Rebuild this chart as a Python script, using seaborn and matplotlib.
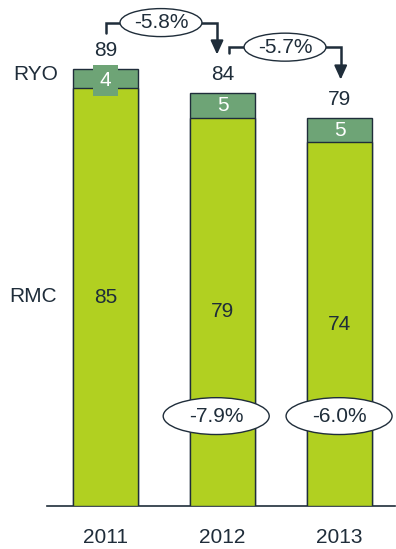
import matplotlib
matplotlib.use("Agg")
import matplotlib.pyplot as plt
from matplotlib.patches import Ellipse
import seaborn as sns
import pandas as pd

years = ["2011", "2012", "2013"]
rmc = [85, 79, 74]
ryo = [4, 5, 5]
totals = [89, 84, 79]
yoy_total = ["-5.8%", "-5.7%"]
yoy_rmc = ["-7.9%", "-6.0%"]

RMC_C = "#B1D021"
RYO_C = "#6EA476"
EDGE = "#1F2D3A"
TXT = "#1F2D3A"

sns.set_theme(style="white")
plt.rcParams["font.family"] = ["Liberation Sans", "DejaVu Sans"]

df = pd.DataFrame({"year": years, "RMC": rmc, "RYO": ryo, "total": totals})

fig = plt.figure(figsize=(3.96, 5.49), dpi=100)
ax = fig.add_axes([47 / 396, 43 / 549, (395 - 47) / 396, 506 / 549])

W = 0.556
sns.barplot(data=df, x="year", y="total", color=RYO_C, saturation=1, width=W,
            edgecolor=EDGE, linewidth=1.0, ax=ax, zorder=2)
sns.barplot(data=df, x="year", y="RMC", color=RMC_C, saturation=1, width=W,
            edgecolor=EDGE, linewidth=1.0, ax=ax, zorder=3)

ax.set_xlim(-0.5, 2.474)
ax.set_ylim(0, 103)
ax.set_xlabel("")
ax.set_ylabel("")
ax.set_yticks([])
for s in ["top", "right", "left"]:
    ax.spines[s].set_visible(False)
ax.spines["bottom"].set_color(EDGE)
ax.spines["bottom"].set_linewidth(1.2)
fs = 15
ax.tick_params(axis="x", length=0, pad=16, labelsize=fs, labelcolor=TXT)

for i in range(3):
    ax.text(i, rmc[i] / 2, str(rmc[i]), ha="center", va="center", fontsize=fs, color=TXT, zorder=5)
    ax.text(i, totals[i] + 3.8, str(totals[i]), ha="center", va="center", fontsize=fs, color=TXT, zorder=5)
    if i == 0:
        ax.text(i, rmc[i] + 1.6, str(ryo[i]), ha="center", va="center", fontsize=fs, color="white",
                zorder=5, bbox=dict(boxstyle="square,pad=0.3", fc=RYO_C, ec="none"))
    else:
        ax.text(i, rmc[i] + ryo[i] / 2, str(ryo[i]), ha="center", va="center", fontsize=fs,
                color="white", zorder=5)

ax.text(-0.6, 87.8, "RYO", ha="center", va="center", fontsize=fs, color=TXT, clip_on=False)
ax.text(-0.62, 42.6, "RMC", ha="center", va="center", fontsize=fs, color=TXT, clip_on=False)

# top brackets with growth ellipses
brackets = [
    # x_start, y_start, y_line, ellipse_cx, x_end, y_end
    (0.0, 96.3, 98.4, 0.474, 0.953, 91.9),
    (1.056, 92.3, 93.4, 1.534, 2.01, 86.8),
]
for (xs, ys, yl, ecx, xe, ye), lab in zip(brackets, yoy_total):
    ax.plot([xs, xs, xe, xe], [ys, yl, yl, ye + 2.0], color=EDGE, lw=1.8, zorder=4, clip_on=False,
            solid_joinstyle="miter")
    ax.annotate("", xy=(xe, ye), xytext=(xe, ye + 2.2),
                arrowprops=dict(arrowstyle="-|>,head_length=0.7,head_width=0.32", color=EDGE, lw=1.5,
                                shrinkA=0, shrinkB=0), zorder=4)
    ax.add_patch(Ellipse((ecx, yl), 0.70, 5.7, fc="white", ec=EDGE, lw=1.0, zorder=6, clip_on=False))
    ax.text(ecx, yl, lab, ha="center", va="center", fontsize=fs, color=TXT, zorder=7)

# bottom RMC change ellipses
for cx, lab in zip([0.946, 1.996], yoy_rmc):
    ax.add_patch(Ellipse((cx, 18.3), 0.906, 7.5, fc="white", ec=EDGE, lw=1.0, zorder=6))
    ax.text(cx, 18.3, lab, ha="center", va="center", fontsize=fs, color=TXT, zorder=7)

fig.savefig("out.png", dpi=100)
